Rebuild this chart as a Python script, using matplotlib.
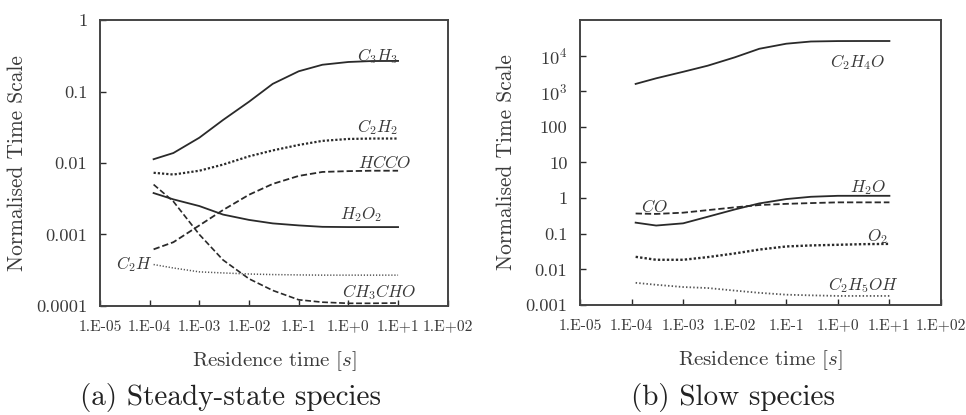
import numpy as np
import matplotlib
matplotlib.use("Agg")
import matplotlib.pyplot as plt

plt.rcParams['font.family'] = ['cmr10', 'DejaVu Serif']
plt.rcParams['mathtext.fontset'] = 'cm'
plt.rcParams['axes.unicode_minus'] = False

# --- residence time sample points [s] ---
t = [1.2e-4, 3e-4, 1e-3, 3e-3, 1e-2, 3e-2, 1e-1, 3e-1, 1, 3, 10]

# --- (a) steady-state species ---
c3h3 = [0.0113, 0.0138, 0.0226, 0.040, 0.072, 0.128, 0.192, 0.237, 0.259, 0.267, 0.268]
c2h2 = [0.0073, 0.0069, 0.0078, 0.0095, 0.0124, 0.0150, 0.0179, 0.0204, 0.0217, 0.0220, 0.0220]
hcco = [0.00062, 0.00078, 0.00134, 0.0022, 0.0036, 0.0051, 0.0066, 0.0075, 0.0077, 0.0078, 0.0078]
h2o2 = [0.0038, 0.0031, 0.0025, 0.0019, 0.0016, 0.00143, 0.00134, 0.00128, 0.00127, 0.00127, 0.00127]
ch3cho = [0.0050, 0.0029, 0.0010, 0.00044, 0.00024, 0.000165, 0.000122, 0.000113, 0.000109, 0.000109, 0.00011]
c2h = [0.00038, 0.00034, 0.00030, 0.00029, 0.00028, 0.000275, 0.000272, 0.00027, 0.00027, 0.00027, 0.00027]

# --- (b) slow species ---
c2h4o = [1600, 2300, 3500, 5200, 8900, 15500, 21500, 24800, 25500, 25600, 25600]
h2o = [0.205, 0.17, 0.196, 0.30, 0.48, 0.71, 0.94, 1.09, 1.16, 1.16, 1.16]
co = [0.37, 0.36, 0.39, 0.46, 0.55, 0.64, 0.69, 0.725, 0.76, 0.76, 0.76]
o2 = [0.0225, 0.0186, 0.0186, 0.0221, 0.028, 0.036, 0.044, 0.047, 0.049, 0.051, 0.052]
c2h5oh = [0.0042, 0.0037, 0.0032, 0.0030, 0.00254, 0.0022, 0.00195, 0.00187, 0.0018, 0.0018, 0.0018]

xticks = [1e-5, 1e-4, 1e-3, 1e-2, 1e-1, 1e0, 1e1, 1e2]
xticklabels = ['1.E-05', '1.E-04', '1.E-03', '1.E-02', '1.E-1', '1.E+0', '1.E+1', '1.E+02']
yticks_a = [1e-4, 1e-3, 1e-2, 1e-1, 1]
yticklabels_a = ['0.0001', '0.001', '0.01', '0.1', '1']
yticks_b = [1e-3, 1e-2, 1e-1, 1, 10, 100, 1e3, 1e4]
yticklabels_b = ['0.001', '0.01', '0.1', '1', '10', '100', r'$10^3$', r'$10^4$']

LC = '#2a2a2a'
TC = '#3a3a3a'
solid = '-'
dashed = (0, (3.5, 1.6))
dotted = (0, (1, 0.9))
fine = (0, (0.8, 1.2))

fig = plt.figure(figsize=(9.66, 4.15), dpi=100)
ax1 = fig.add_axes([0.1035, 0.2627, 0.360, 0.689])
ax2 = fig.add_axes([0.6004, 0.2650, 0.3737, 0.687])


def style(ax, yt, ytl, ylim):
    ax.set_xscale('log')
    ax.set_yscale('log')
    ax.set_xlim(1e-5, 1e2)
    ax.set_ylim(*ylim)
    ax.set_xticks(xticks)
    ax.set_xticklabels(xticklabels, fontsize=11.2, color=TC)
    ax.set_yticks(yt)
    ax.set_yticklabels(ytl, fontsize=13.3, color=TC)
    ax.minorticks_off()
    ax.tick_params(axis='x', direction='in', length=4, width=1, color=LC, pad=10)
    ax.tick_params(axis='y', direction='in', length=4, width=1, color=LC, pad=9)
    for s in ax.spines.values():
        s.set_linewidth(1.4)
        s.set_color('#444444')
    ax.set_xlabel(r'Residence time $[s]$', fontsize=15, color=TC, labelpad=11)
    ax.set_ylabel('Normalised Time Scale', fontsize=15.4, color=TC, labelpad=7)


style(ax1, yticks_a, yticklabels_a, (1e-4, 1))
ax1.plot(t, c3h3, color=LC, lw=1.3, ls=solid)
ax1.plot(t, c2h2, color=LC, lw=1.6, ls=dotted)
ax1.plot(t, hcco, color=LC, lw=1.3, ls=dashed)
ax1.plot(t, h2o2, color=LC, lw=1.3, ls=solid)
ax1.plot(t, ch3cho, color=LC, lw=1.2, ls=dashed)
ax1.plot(t, c2h, color='#555555', lw=1.1, ls=fine)

lab = dict(fontsize=12.3, color=TC)
ax1.text(10, 0.31, r'$C_3H_3$', ha='right', va='center', **lab)
ax1.text(10, 0.032, r'$C_2H_2$', ha='right', va='center', **lab)
ax1.text(18, 0.0103, r'$HCCO$', ha='right', va='center', **lab)
ax1.text(1.8, 0.0019, r'$H_2O_2$', ha='center', va='center', **lab)
ax1.text(24, 0.000155, r'$CH_3CHO$', ha='right', va='center', **lab)
ax1.text(1.15e-4, 0.00039, r'$C_2H$', ha='right', va='center', **lab)

style(ax2, yticks_b, yticklabels_b, (1e-3, 1e5))
ax2.plot(t, c2h4o, color=LC, lw=1.3, ls=solid)
ax2.plot(t, h2o, color=LC, lw=1.3, ls=solid)
ax2.plot(t, co, color=LC, lw=1.3, ls=dashed)
ax2.plot(t, o2, color=LC, lw=1.7, ls=dotted)
ax2.plot(t, c2h5oh, color='#555555', lw=1.3, ls=fine)

ax2.text(2.4, 6500, r'$C_2H_4O$', ha='center', va='center', **lab)
ax2.text(3.9, 2.0, r'$H_2O$', ha='center', va='center', **lab)
ax2.text(2.8e-4, 0.57, r'$CO$', ha='center', va='center', **lab)
ax2.text(5.9, 0.082, r'$O_2$', ha='center', va='center', **lab)
ax2.text(3.1, 0.0037, r'$C_2H_5OH$', ha='center', va='center', **lab)

fig.text(0.239, 0.041, '(a) Steady-state species', ha='center', va='center', fontsize=21, color='#222222')
fig.text(0.759, 0.041, '(b) Slow species', ha='center', va='center', fontsize=21, color='#222222')

fig.savefig('out.png', dpi=100)
